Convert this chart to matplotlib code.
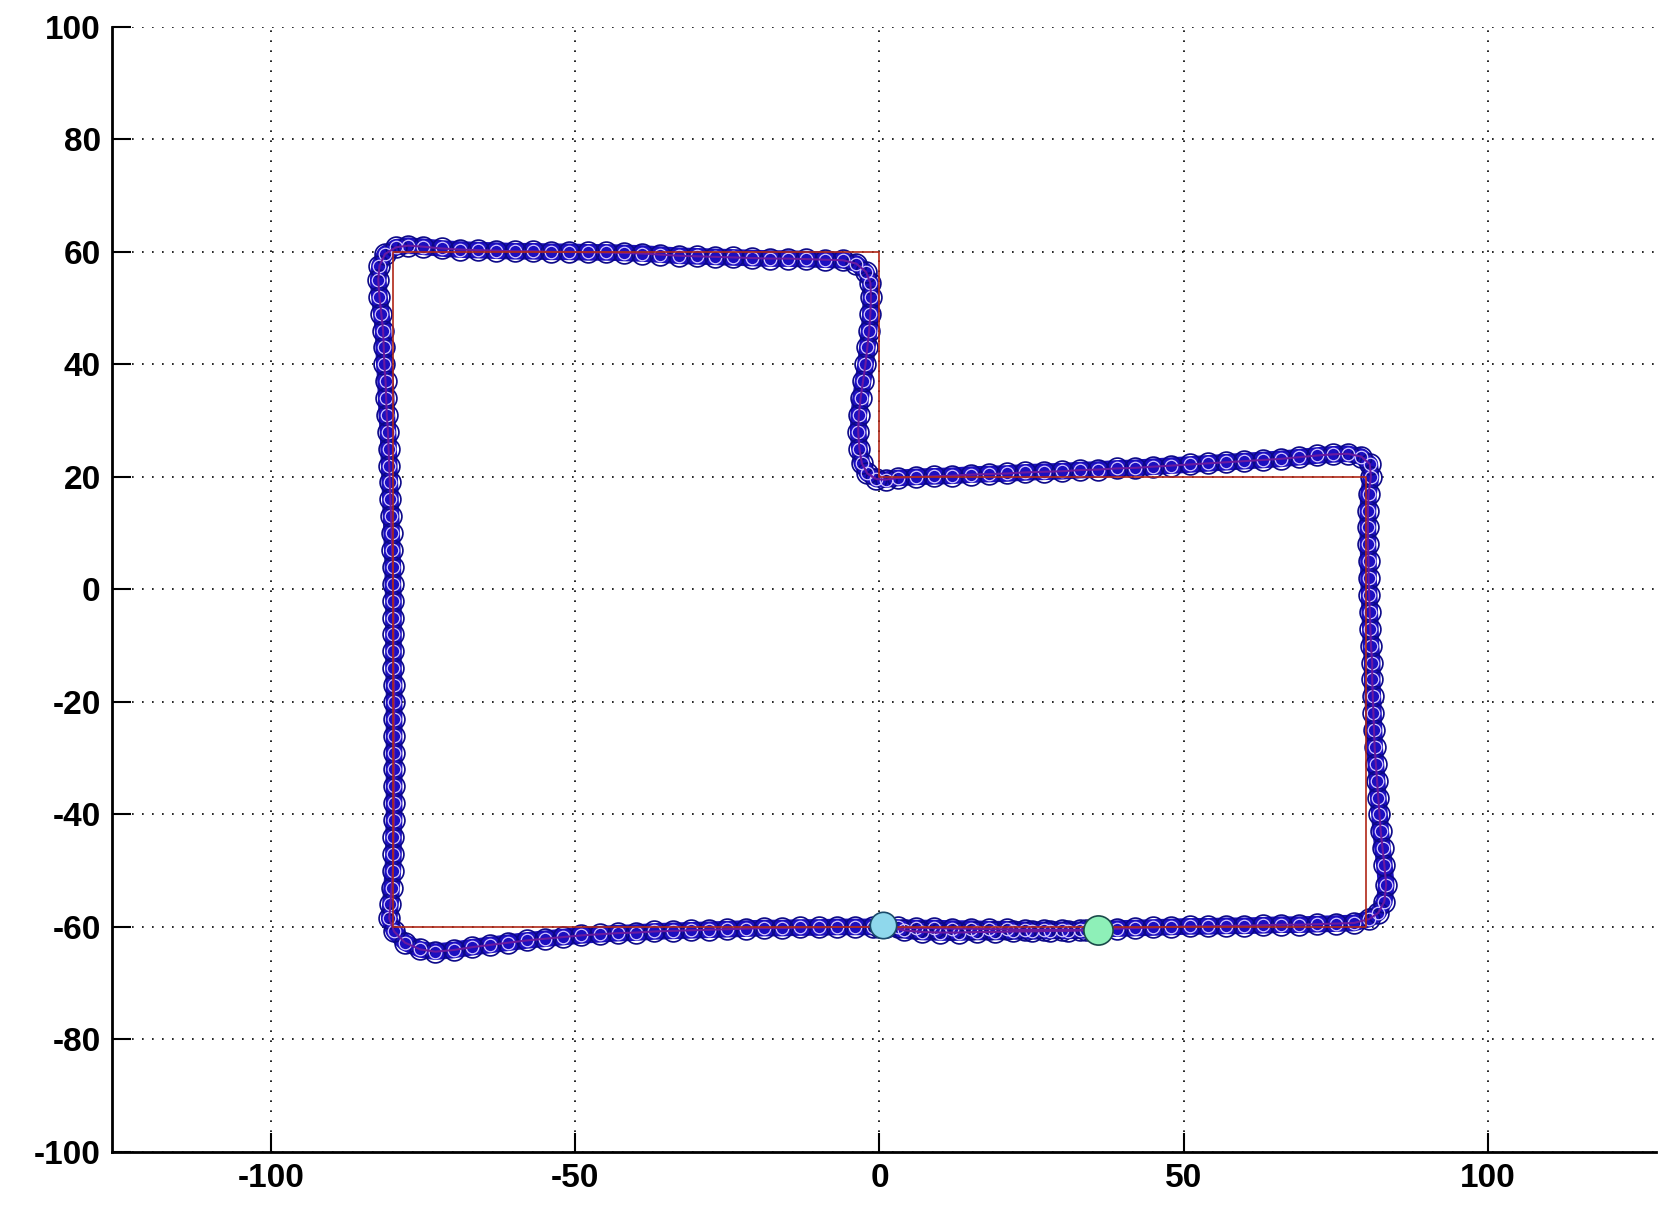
import numpy as np
import matplotlib.pyplot as plt

# reference path (red)
ref_x = [0, 80, 80, 0, 0, -80, -80, 0]
ref_y = [-60, -60, 20, 20, 60, 60, -60, -60]

# estimated trajectory
bottom_e_x = [0, 3, 6, 9, 12, 15, 18, 21, 24, 27, 30, 33, 36, 39, 42, 45, 48, 51, 54, 57, 60, 63, 66, 69, 72, 75, 78]
bottom_e_y = [-60.0, -60.1, -60.2, -60.2, -60.3, -60.3, -60.4, -60.4, -60.5, -60.5, -60.5, -60.5, -60.4, -60.3, -60.2,
              -60.1, -60.0, -59.9, -59.9, -59.8, -59.8, -59.7, -59.6, -59.6, -59.5, -59.4, -59.3]
corner1_x = [80.5, 82.0, 83.0, 83.3]
corner1_y = [-58.6, -57.5, -55.5, -52.5]
right_n_y = [-49, -46, -43, -40, -37, -34, -31, -28, -25, -22, -19, -16, -13, -10, -7, -4, -1, 2, 5, 8, 11, 14, 17]
right_n_x = [83.0, 82.7, 82.4, 82.2, 82.0, 81.8, 81.6, 81.4, 81.3, 81.2, 81.1, 81.0, 81.0, 80.8, 80.7, 80.6, 80.5,
             80.4, 80.4, 80.3, 80.3, 80.3, 80.4]
corner2_x = [80.8, 80.6, 79.2, 77.0, 74.5]
corner2_y = [20.0, 22.3, 23.6, 24.1, 24.0]
mid_w_x = [72, 69, 66, 63, 60, 57, 54, 51, 48, 45, 42, 39, 36, 33, 30, 27, 24, 21, 18, 15, 12, 9, 6, 3, 1]
mid_w_y = [23.8, 23.5, 23.2, 23.0, 22.8, 22.6, 22.4, 22.2, 22.0, 21.8, 21.6, 21.5, 21.3, 21.2, 21.0, 20.9, 20.8,
           20.6, 20.5, 20.4, 20.2, 20.1, 20.0, 19.8, 19.5]
corner3_x = [-0.5, -2.0, -2.9]
corner3_y = [19.6, 20.6, 22.4]
inner_n_y = [25, 28, 31, 34, 37, 40, 43, 46, 49, 52, 54.5]
inner_n_x = [-3.3, -3.5, -3.4, -3.1, -2.7, -2.3, -2.0, -1.7, -1.5, -1.4, -1.5]
corner4_x = [-2.2, -3.8, -6.0]
corner4_y = [56.4, 57.9, 58.5]
top_w_x = [-9, -12, -15, -18, -21, -24, -27, -30, -33, -36, -39, -42, -45, -48, -51, -54, -57, -60, -63, -66,
           -69, -72, -75, -77.5]
top_w_y = [58.6, 58.7, 58.8, 58.8, 58.9, 59.0, 59.1, 59.2, 59.3, 59.5, 59.7, 59.8, 59.9, 59.9, 60.0, 60.0, 60.1,
           60.1, 60.2, 60.3, 60.4, 60.6, 60.9, 61.1]
corner5_x = [-79.5, -81.3, -82.2, -82.4]
corner5_y = [60.8, 59.6, 57.5, 55.0]
left_s_y = [52, 49, 46, 43, 40, 37, 34, 31, 28, 25, 22, 19, 16, 13, 10, 7, 4, 1, -2, -5, -8, -11, -14, -17, -20,
            -23, -26, -29, -32, -35, -38, -41, -44, -47, -50, -53, -56]
left_s_x = [-82.2, -81.9, -81.6, -81.5, -81.4, -81.2, -81.1, -81.0, -80.8, -80.7, -80.6, -80.5, -80.4, -80.3,
            -80.2, -80.1, -80.0, -80.0, -79.9, -79.9, -79.9, -79.9, -79.9, -79.8, -79.8, -79.8, -79.8, -79.8,
            -79.8, -79.8, -79.8, -79.8, -79.9, -79.9, -80.0, -80.2, -80.4]
corner6_x = [-80.6, -79.8, -78.0, -75.5, -73.0]
corner6_y = [-58.5, -60.8, -62.8, -64.0, -64.4]
bottom_e2_x = [-70, -67, -64, -61, -58, -55, -52, -49, -46, -43, -40, -37, -34, -31, -28, -25, -22, -19, -16,
               -13, -10, -7, -4, -1, 1]
bottom_e2_y = [-64.1, -63.6, -63.2, -62.8, -62.4, -62.1, -61.8, -61.5, -61.3, -61.1, -61.0, -60.8, -60.7, -60.6,
               -60.5, -60.4, -60.3, -60.2, -60.2, -60.1, -60.1, -60.0, -60.0, -60.0, -60.0]
extra_x = [4, 7, 10, 13, 16, 19, 22, 25, 28, 31, 34, 36]
extra_y = [-60.6, -60.9, -61.0, -61.0, -60.9, -60.9, -60.8, -60.8, -60.7, -60.7, -60.6, -60.6]

start_pt = (0.5, -59.7)
end_pt = (35.9, -60.6)

est_x = (bottom_e_x + corner1_x + right_n_x + corner2_x + mid_w_x + corner3_x + inner_n_x + corner4_x
         + top_w_x + corner5_x + left_s_x + corner6_x + bottom_e2_x + extra_x)
est_y = (bottom_e_y + corner1_y + right_n_y + corner2_y + mid_w_y + corner3_y + inner_n_y + corner4_y
         + top_w_y + corner5_y + left_s_y + corner6_y + bottom_e2_y + extra_y)

plt.rcParams['font.family'] = ['Liberation Sans', 'DejaVu Sans']
plt.rcParams['axes.unicode_minus'] = False

fig = plt.figure(figsize=(16.69, 12.06), dpi=100)
ax = fig.add_axes([0.067, 0.0448, 0.925, 0.933])

# thick blue band of overlapping circle markers
ax.plot(est_x, est_y, '-', color='#1c0fc0', linewidth=12, solid_capstyle='round', solid_joinstyle='round', zorder=2)
ax.plot(est_x, est_y, 'o', markersize=15, markerfacecolor='none',
        markeredgecolor='#0c0888', markeredgewidth=1.2, zorder=3)
ax.plot(est_x, est_y, 'o', markersize=9, markerfacecolor='none',
        markeredgecolor='#d4c6ff', markeredgewidth=0.9, linestyle='none', zorder=4)
ax.plot(est_x, est_y, '-', color='#6a1aa0', linewidth=1.5, zorder=4)
ax.plot(ref_x, ref_y, '-', color='#b02818', linewidth=1.2, zorder=5)

ax.plot(start_pt[0], start_pt[1], 'o', markersize=19, markerfacecolor='#8fd8ec',
        markeredgecolor='#1a4a6a', markeredgewidth=1.2, zorder=6)
ax.plot(end_pt[0], end_pt[1], 'o', markersize=21, markerfacecolor='#8ef0b8',
        markeredgecolor='#1a4a4a', markeredgewidth=1.2, zorder=6)

ax.set_xlim(-126.2, 127.6)
ax.set_ylim(-100, 100)
ax.set_xticks([-100, -50, 0, 50, 100])
ax.set_yticks(np.arange(-100, 101, 20))
ax.grid(True, linestyle=(0, (1, 5)), color='black', linewidth=1.2)
ax.set_axisbelow(True)

for s in ['top', 'right']:
    ax.spines[s].set_visible(False)
for s in ['left', 'bottom']:
    ax.spines[s].set_linewidth(2)

ax.tick_params(direction='in', length=14, width=1.5, labelsize=24, pad=8)
for lbl in ax.get_xticklabels() + ax.get_yticklabels():
    lbl.set_fontweight('bold')

fig.savefig('out.png', dpi=100)
